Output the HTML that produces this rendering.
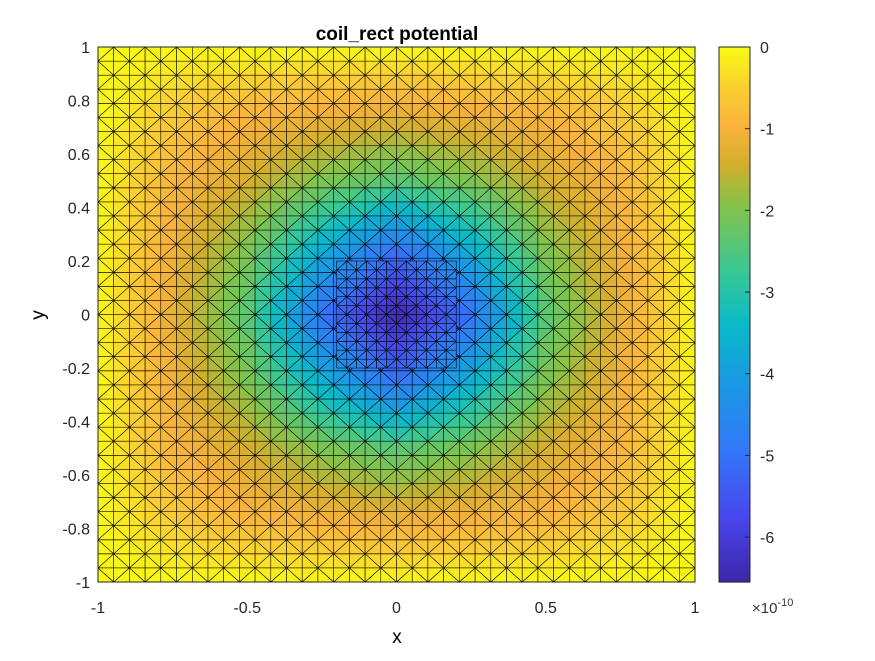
<!DOCTYPE html>
<html><head><meta charset="utf-8"><style>
body{margin:0;background:#fff;}
svg text{font-family:"Liberation Sans",sans-serif;}
</style></head><body>
<svg id="chart" width="875" height="656" xmlns="http://www.w3.org/2000/svg">
<rect width="875" height="656" fill="#fff"/>
<g id="mesh"></g>
<g id="axes"></g>
<g id="cbar"></g>
<text x="397" y="40" text-anchor="middle" font-size="19" font-weight="bold">coil_rect potential</text>
<text x="397" y="643" text-anchor="middle" font-size="19">x</text>
<text transform="translate(44,315) rotate(-90)" text-anchor="middle" font-size="19">y</text>
<text x="752" y="613" font-size="15" fill="#333">×10<tspan dy="-7" font-size="11">-10</tspan></text>
</svg>
<script>
const gridCoords=[-1,-0.75,-0.5,-0.25,0,0.25,0.5,0.75,1];
// rows from y=1 down to y=-1, values in units of 1e-10
const gridValues=[
[0,0,0,0,0,0,0,0,0],
[0,-0.6,-0.95,-1.1,-1.2,-1.1,-0.95,-0.6,0],
[0,-0.95,-1.4,-2.0,-2.4,-2.0,-1.4,-0.95,0],
[0,-1.1,-2.0,-3.6,-5.0,-3.6,-2.0,-1.1,0],
[0,-1.2,-2.4,-5.0,-6.5,-5.0,-2.4,-1.2,0],
[0,-1.1,-2.0,-3.6,-5.0,-3.6,-2.0,-1.1,0],
[0,-0.95,-1.4,-2.0,-2.4,-2.0,-1.4,-0.95,0],
[0,-0.6,-0.95,-1.1,-1.2,-1.1,-0.95,-0.6,0],
[0,0,0,0,0,0,0,0,0]];
const xTicks=[-1,-0.5,0,0.5,1];
const xTickLabels=["-1","-0.5","0","0.5","1"];
const yTicks=[1,0.8,0.6,0.4,0.2,0,-0.2,-0.4,-0.6,-0.8,-1];
const yTickLabels=["1","0.8","0.6","0.4","0.2","0","-0.2","-0.4","-0.6","-0.8","-1"];
const cTicks=[0,-1,-2,-3,-4,-5,-6];
const cTickLabels=["0","-1","-2","-3","-4","-5","-6"];
const cMin=-6.55,cMax=0;

const X0=98,X1=695,Y0=47,Y1=582;
const sx=x=>X0+(x+1)/2*(X1-X0);
const sy=y=>Y0+(1-y)/2*(Y1-Y0);
const NS="http://www.w3.org/2000/svg";
const stops=[[0,[62,38,168]],[0.12,[71,70,235]],[0.25,[50,120,248]],[0.38,[25,155,225]],[0.48,[10,185,200]],[0.58,[55,200,150]],[0.70,[130,195,75]],[0.78,[210,175,45]],[0.85,[250,178,60]],[0.92,[250,205,50]],[1,[249,250,20]]];
function cmap(v){let t=(v-cMin)/(cMax-cMin);t=Math.max(0,Math.min(1,t));
 for(let i=1;i<stops.length;i++){if(t<=stops[i][0]){const a=stops[i-1],b=stops[i],f=(t-a[0])/(b[0]-a[0]);
  return `rgb(${a[1].map((c,k)=>Math.round(c+(b[1][k]-c)*f)).join(',')})`;}}
 return 'rgb(249,250,20)';}
function val(x,y){const n=gridCoords.length-1;
 let fx=(x+1)/2*n, fy=(1-y)/2*n;let i=Math.min(n-1,Math.floor(fx)),j=Math.min(n-1,Math.floor(fy));
 const u=fx-i,w=fy-j;
 return gridValues[j][i]*(1-u)*(1-w)+gridValues[j][i+1]*u*(1-w)+gridValues[j+1][i]*(1-u)*w+gridValues[j+1][i+1]*u*w;}
const mesh=document.getElementById('mesh');
function tri(pts){const cx=(pts[0][0]+pts[1][0]+pts[2][0])/3,cy=(pts[0][1]+pts[1][1]+pts[2][1])/3;
 const p=document.createElementNS(NS,'polygon');
 p.setAttribute('points',pts.map(q=>sx(q[0]).toFixed(1)+','+sy(q[1]).toFixed(1)).join(' '));
 p.setAttribute('fill',cmap(val(cx,cy)));p.setAttribute('stroke','#000');p.setAttribute('stroke-width','0.55');
 
 
 mesh.appendChild(p);}
function region(xa,xb,ya,yb,n){const h=(xb-xa)/n,k=(yb-ya)/n;
 for(let i=0;i<n;i++)for(let j=0;j<n;j++){const x=xa+i*h,y=ya+j*k;
  const a=[x,y],b=[x+h,y],c=[x+h,y+k],d=[x,y+k];
  if((i+j)%2){tri([a,b,c]);tri([a,c,d]);}else{tri([a,b,d]);tri([b,c,d]);}}}
region(-1,1,-1,1,38);
region(-0.2,0.2,-0.2,0.2,12);
const ax=document.getElementById('axes');
function el(tag,attrs,parent,txt){const e=document.createElementNS(NS,tag);for(const k in attrs)e.setAttribute(k,attrs[k]);if(txt!==undefined)e.textContent=txt;parent.appendChild(e);return e;}
const box=el('rect',{x:X0,y:Y0,width:X1-X0,height:Y1-Y0,fill:'none',stroke:'#262626','stroke-width':1},ax);


xTicks.forEach((t,i)=>{const tx=el('text',{x:sx(t),y:613,'text-anchor':'middle','font-size':16,fill:'#262626'},ax,xTickLabels[i]);
 
 });
yTicks.forEach((t,i)=>{const tx=el('text',{x:90,y:sy(t)+6,'text-anchor':'end','font-size':16,fill:'#262626'},ax,yTickLabels[i]);
 
 });
const cb=document.getElementById('cbar');
const CX0=719,CX1=750;
const cy=v=>Y0+(cMax-v)/(cMax-cMin)*(Y1-Y0);
for(let i=0;i<120;i++){const v0=cMax-(cMax-cMin)*i/120,v1=cMax-(cMax-cMin)*(i+1)/120;
 const r=el('rect',{x:CX0,y:cy(v0),width:CX1-CX0,height:cy(v1)-cy(v0)+0.6,fill:cmap((v0+v1)/2)},cb);
 
 }
const cbox=el('rect',{x:CX0,y:Y0,width:CX1-CX0,height:Y1-Y0,fill:'none',stroke:'#262626','stroke-width':1},cb);


cTicks.forEach((t,i)=>{el('line',{x1:CX1-5,x2:CX1,y1:cy(t),y2:cy(t),stroke:'#262626'},cb);
 const tx=el('text',{x:760,y:cy(t)+6,'font-size':16,fill:'#262626'},cb,cTickLabels[i]);
 
 });
</script>
</body></html>
